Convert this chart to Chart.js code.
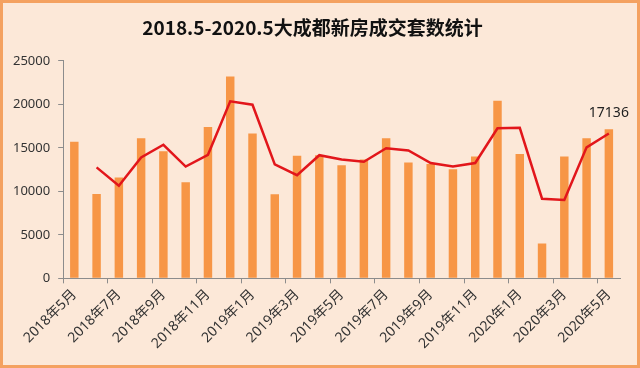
<!DOCTYPE html>
<html>
<head>
<meta charset="utf-8">
<script src="https://cdn.jsdelivr.net/npm/chart.js@4/dist/chart.umd.min.js"></script>
<style>
	html, body { margin: 0; padding: 0; background: #fce8d8; }
	#frame {
		position: absolute; left: 0; top: 0;
		width: 640px; height: 368px;
		box-sizing: border-box;
		border: 3px solid #f4a160;
		background: #fce8d8;
	}
	#wrap { position: absolute; left: 0; top: 0; width: 634px; height: 362px; }
</style>
</head>
<body>
<div id="frame"><div id="wrap"><canvas id="salesChart"></canvas></div></div>
<script>
// months 2018.5 - 2020.5
var months = ['2018年5月', '2018年6月', '2018年7月', '2018年8月', '2018年9月', '2018年10月',
	'2018年11月', '2018年12月', '2019年1月', '2019年2月', '2019年3月', '2019年4月',
	'2019年5月', '2019年6月', '2019年7月', '2019年8月', '2019年9月', '2019年10月',
	'2019年11月', '2019年12月', '2020年1月', '2020年2月', '2020年3月', '2020年4月', '2020年5月'];

// 成交套数 (bars)
var deals = [15700, 9700, 11600, 16100, 14600, 11050, 17400, 23200, 16650, 9650, 14100, 14150,
	13000, 13650, 16100, 13300, 13150, 12550, 14000, 20400, 14300, 4000, 14000, 16100, 17136];

// red trend line, starts at 2018.6
var trend = [null, 12750, 10650, 13900, 15350, 12850, 14200, 20350, 19950, 13100, 11850, 14150,
	13650, 13400, 14950, 14700, 13250, 12850, 13250, 17250, 17300, 9150, 9000, 15050, 16650];

var yTicks = [0, 5000, 10000, 15000, 20000, 25000];

var axisGray = '#8c8c8c';
var textColor = '#333333';

// label above the last bar
var lastLabel = {
	id: 'lastLabel',
	afterDatasetsDraw: function(chart) {
		var meta = chart.getDatasetMeta(0);
		var i = deals.length - 1;
		var bar = meta.data[i];
		var ctx = chart.ctx;
		ctx.save();
		ctx.font = '14px "Noto Sans"';
		ctx.fillStyle = '#222222';
		ctx.textAlign = 'center';
		ctx.textBaseline = 'middle';
		ctx.fillText(String(deals[i]), bar.x, bar.y - 16);
		ctx.restore();
	}
};

new Chart(document.getElementById('salesChart'), {
	type: 'bar',
	data: {
		labels: months,
		datasets: [
			{
				type: 'bar',
				data: deals,
				backgroundColor: '#f79646',
				categoryPercentage: 1,
				barPercentage: 0.38,
				order: 2
			},
			{
				type: 'line',
				data: trend,
				borderColor: '#e2161b',
				borderWidth: 2.5,
				pointRadius: 0,
				tension: 0,
				fill: false,
				order: 1
			}
		]
	},
	options: {
		responsive: true,
		maintainAspectRatio: false,
		animation: false,
		layout: { padding: { left: 2, right: 17, bottom: 10 } },
		plugins: {
			legend: { display: false },
			tooltip: { enabled: false },
			title: {
				display: true,
				text: '2018.5-2020.5大成都新房成交套数统计',
				color: '#111111',
				font: { family: '"Noto Sans CJK SC"', size: 19, weight: 'bold' },
				padding: { top: 13, bottom: 22 }
			}
		},
		scales: {
			x: {
				offset: true,
				grid: {
					offset: true,
					drawOnChartArea: false,
					tickLength: 5,
					color: function(c) { return c.index % 2 === 0 ? axisGray : 'rgba(0,0,0,0)'; }
				},
				border: { display: true, color: axisGray },
				ticks: {
					autoSkip: false,
					maxRotation: 45,
					minRotation: 45,
					padding: 3,
					color: textColor,
					font: { family: '"Noto Sans", "Noto Sans CJK SC"', size: 14 },
					callback: function(v, i) { return i % 2 === 0 ? months[i] : ''; }
				}
			},
			y: {
				min: 0,
				max: 25000,
				afterBuildTicks: function(axis) {
					axis.ticks = yTicks.map(function(v) { return { value: v }; });
				},
				grid: { drawOnChartArea: false, tickLength: 5, color: axisGray },
				border: { display: true, color: axisGray },
				ticks: {
					padding: 8,
					color: textColor,
					font: { family: '"Noto Sans"', size: 13 },
					callback: function(v) { return String(v); }
				}
			}
		}
	},
	plugins: [lastLabel]
});
</script>
</body>
</html>
